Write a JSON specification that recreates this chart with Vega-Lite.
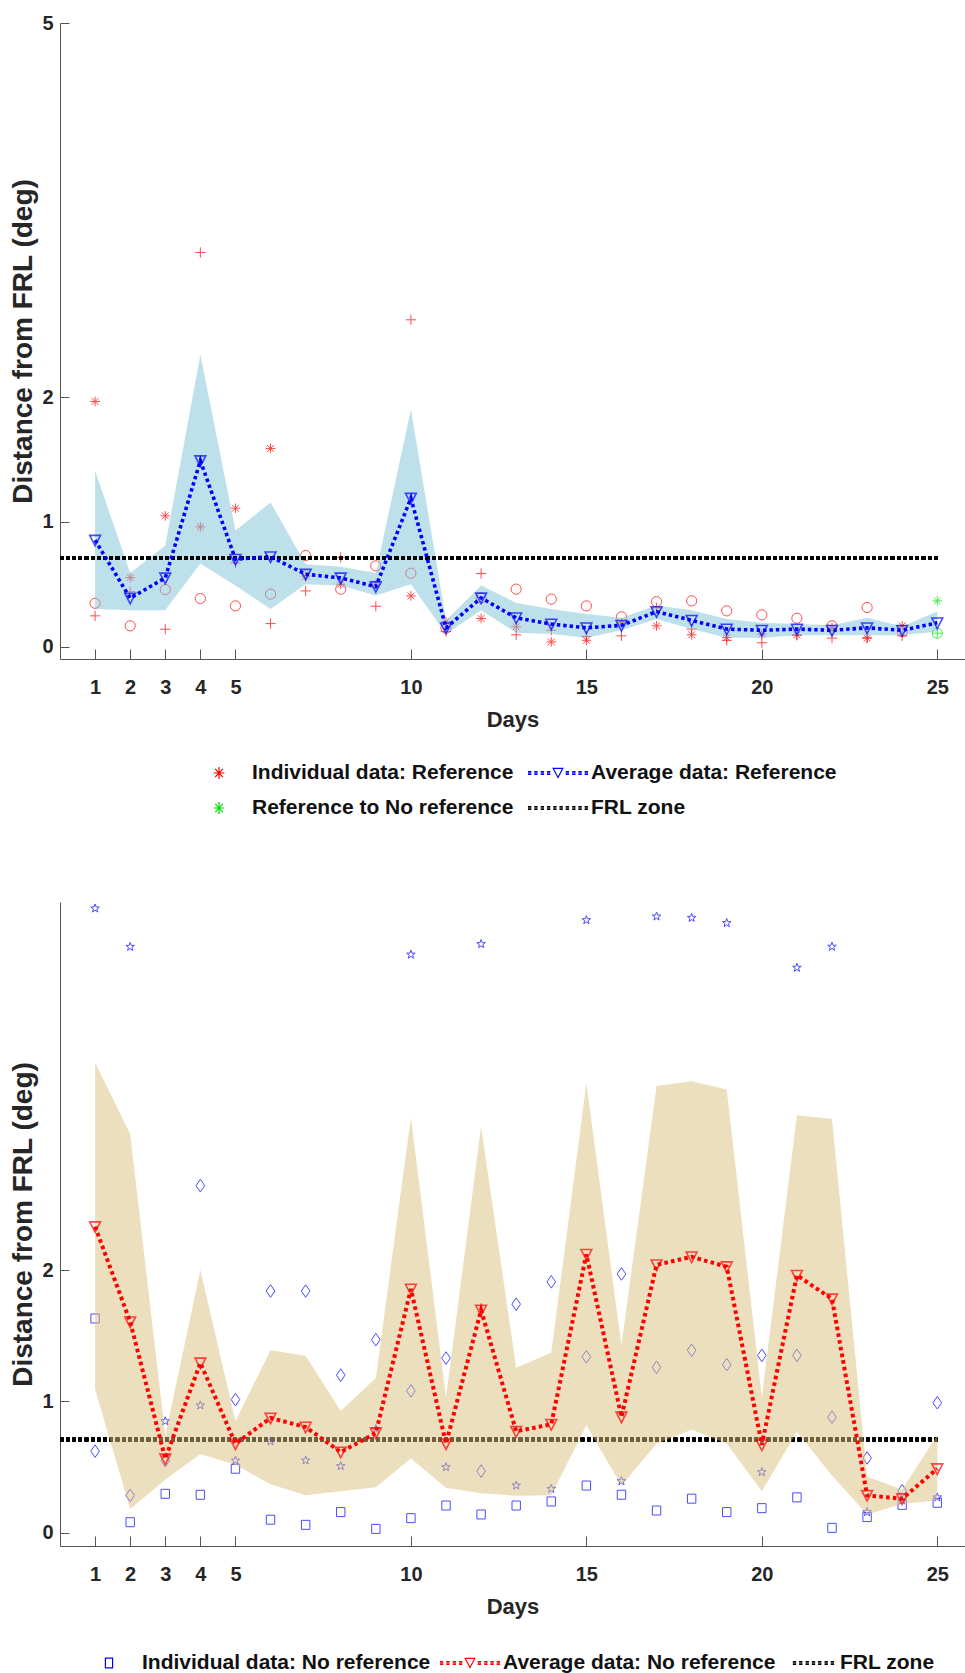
{
  "$schema": "https://vega.github.io/schema/vega-lite/v6.json",
  "padding": {"left": 9, "top": 13, "right": 0, "bottom": 0},
  "spacing": 83,
  "config": {
    "font": "Liberation Sans",
    "view": {"stroke": null},
    "axis": {
      "grid": false,
      "domainColor": "#555555",
      "tickColor": "#555555",
      "labelColor": "#262626",
      "titleColor": "#262626",
      "labelFont": "Liberation Sans",
      "titleFont": "Liberation Sans",
      "labelFontWeight": "bold",
      "titleFontWeight": "bold",
      "labelOverlap": false,
      "labelFlush": false
    },
    "axisX": {"tickSize": -10, "labelFontSize": 20, "labelPadding": 28, "titleFontSize": 22, "titlePadding": 12},
    "axisY": {"tickSize": -9, "labelFontSize": 20, "labelPadding": 16, "titleFontSize": 28, "titlePadding": 4, "format": "~g"},
    "legend": {
      "orient": "none",
      "title": null,
      "symbolSize": 2304,
      "symbolStrokeWidth": 1.2,
      "symbolOpacity": 1,
      "labelFont": "Liberation Sans",
      "labelFontSize": 21,
      "labelFontWeight": "bold",
      "labelColor": "#111111",
      "labelLimit": 500,
      "labelOffset": 8,
      "rowPadding": 0
    }
  },
  "resolve": {"scale": {"color": "independent", "shape": "independent"}},
  "datasets": {
    "top": [
      {"day": 1, "A": 1.965, "P": 0.246, "C": 0.347, "avg": 0.853, "up": 1.41, "lo": 0.30},
      {"day": 2, "A": 0.553, "P": 0.44, "C": 0.166, "avg": 0.388, "up": 0.59, "lo": 0.29},
      {"day": 3, "A": 1.048, "P": 0.139, "C": 0.457, "avg": 0.55, "up": 0.81, "lo": 0.29},
      {"day": 4, "A": 0.96, "P": 3.16, "C": 0.385, "avg": 1.49, "up": 2.34, "lo": 0.665},
      {"day": 5, "A": 1.109, "P": 0.67, "C": 0.326, "avg": 0.70, "up": 0.93, "lo": 0.49},
      {"day": 6, "A": 1.588, "P": 0.184, "C": 0.42, "avg": 0.72, "up": 1.155, "lo": 0.30},
      {"day": 7, "A": 0.565, "P": 0.446, "C": 0.73, "avg": 0.58, "up": 0.66, "lo": 0.50},
      {"day": 8, "A": 0.50, "P": 0.714, "C": 0.46, "avg": 0.55, "up": 0.64, "lo": 0.49},
      {"day": 9, "A": 0.50, "P": 0.323, "C": 0.647, "avg": 0.48, "up": 0.59, "lo": 0.41},
      {"day": 10, "A": 0.406, "P": 2.62, "C": 0.588, "avg": 1.19, "up": 1.90, "lo": 0.50},
      {"day": 11, "A": 0.20, "P": 0.12, "C": 0.147, "avg": 0.15, "up": 0.21, "lo": 0.10},
      {"day": 12, "A": 0.225, "P": 0.585, "C": 0.388, "avg": 0.39, "up": 0.49, "lo": 0.29},
      {"day": 13, "A": 0.158, "P": 0.094, "C": 0.46, "avg": 0.23, "up": 0.35, "lo": 0.11},
      {"day": 14, "A": 0.037, "P": 0.13, "C": 0.38, "avg": 0.18, "up": 0.30, "lo": 0.10},
      {"day": 15, "A": 0.05, "P": 0.08, "C": 0.326, "avg": 0.15, "up": 0.26, "lo": 0.07},
      {"day": 16, "A": 0.19, "P": 0.086, "C": 0.238, "avg": 0.17, "up": 0.23, "lo": 0.13},
      {"day": 17, "A": 0.166, "P": 0.31, "C": 0.36, "avg": 0.28, "up": 0.33, "lo": 0.22},
      {"day": 18, "A": 0.094, "P": 0.14, "C": 0.366, "avg": 0.21, "up": 0.29, "lo": 0.14},
      {"day": 19, "A": 0.072, "P": 0.05, "C": 0.286, "avg": 0.14, "up": 0.22, "lo": 0.07},
      {"day": 20, "A": 0.099, "P": 0.03, "C": 0.254, "avg": 0.13, "up": 0.19, "lo": 0.07},
      {"day": 21, "A": 0.094, "P": 0.09, "C": 0.227, "avg": 0.14, "up": 0.18, "lo": 0.09},
      {"day": 22, "A": 0.15, "P": 0.067, "C": 0.166, "avg": 0.13, "up": 0.17, "lo": 0.09},
      {"day": 23, "A": 0.067, "P": 0.07, "C": 0.313, "avg": 0.15, "up": 0.23, "lo": 0.09},
      {"day": 24, "A": 0.166, "P": 0.086, "C": 0.12, "avg": 0.13, "up": 0.16, "lo": 0.09},
      {"day": 25, "A": 0.366, "P": 0.107, "C": 0.107, "avg": 0.19, "up": 0.28, "lo": 0.12}
    ],
    "bot": [
      {"day": 1, "S": 1.631, "D": 0.622, "T": 4.751, "avg": 2.33, "up": 3.578, "lo": 1.092},
      {"day": 2, "S": 0.081, "D": 0.285, "T": 4.459, "avg": 1.606, "up": 3.035, "lo": 0.181},
      {"day": 3, "S": 0.297, "D": 0.55, "T": 0.849, "avg": 0.564, "up": 0.74, "lo": 0.405},
      {"day": 4, "S": 0.29, "D": 2.642, "T": 0.97, "avg": 1.293, "up": 2.0, "lo": 0.60},
      {"day": 5, "S": 0.488, "D": 1.014, "T": 0.55, "avg": 0.678, "up": 0.85, "lo": 0.518},
      {"day": 6, "S": 0.10, "D": 1.84, "T": 0.696, "avg": 0.874, "up": 1.39, "lo": 0.369},
      {"day": 7, "S": 0.061, "D": 1.84, "T": 0.551, "avg": 0.805, "up": 1.348, "lo": 0.286},
      {"day": 8, "S": 0.158, "D": 1.20, "T": 0.508, "avg": 0.615, "up": 0.928, "lo": 0.316},
      {"day": 9, "S": 0.03, "D": 1.47, "T": 0.79, "avg": 0.76, "up": 1.179, "lo": 0.347},
      {"day": 10, "S": 0.112, "D": 1.08, "T": 4.40, "avg": 1.855, "up": 3.162, "lo": 0.566},
      {"day": 11, "S": 0.208, "D": 1.33, "T": 0.50, "avg": 0.678, "up": 1.03, "lo": 0.343},
      {"day": 12, "S": 0.14, "D": 0.47, "T": 4.48, "avg": 1.695, "up": 3.092, "lo": 0.302},
      {"day": 13, "S": 0.208, "D": 1.74, "T": 0.36, "avg": 0.772, "up": 1.256, "lo": 0.282},
      {"day": 14, "S": 0.239, "D": 1.91, "T": 0.335, "avg": 0.826, "up": 1.37, "lo": 0.286},
      {"day": 15, "S": 0.36, "D": 1.34, "T": 4.662, "avg": 2.119, "up": 3.42, "lo": 0.819},
      {"day": 16, "S": 0.29, "D": 1.97, "T": 0.394, "avg": 0.882, "up": 1.428, "lo": 0.36},
      {"day": 17, "S": 0.17, "D": 1.26, "T": 4.69, "avg": 2.04, "up": 3.40, "lo": 0.678},
      {"day": 18, "S": 0.26, "D": 1.39, "T": 4.68, "avg": 2.10, "up": 3.436, "lo": 0.784},
      {"day": 19, "S": 0.158, "D": 1.28, "T": 4.64, "avg": 2.025, "up": 3.373, "lo": 0.679},
      {"day": 20, "S": 0.188, "D": 1.35, "T": 0.462, "avg": 0.67, "up": 1.03, "lo": 0.317},
      {"day": 21, "S": 0.27, "D": 1.35, "T": 4.30, "avg": 1.96, "up": 3.177, "lo": 0.769},
      {"day": 22, "S": 0.038, "D": 0.88, "T": 4.46, "avg": 1.78, "up": 3.149, "lo": 0.437},
      {"day": 23, "S": 0.12, "D": 0.57, "T": 0.158, "avg": 0.285, "up": 0.427, "lo": 0.139},
      {"day": 24, "S": 0.213, "D": 0.32, "T": 0.247, "avg": 0.26, "up": 0.33, "lo": 0.22},
      {"day": 25, "S": 0.229, "D": 0.99, "T": 0.27, "avg": 0.488, "up": 0.743, "lo": 0.249}
    ],
    "legTop": [
      {"entry": "Individual data: Reference"},
      {"entry": "Reference to No reference"},
      {"entry": "Average data: Reference"},
      {"entry": "FRL zone"}
    ],
    "legBot": [
      {"entry": "Individual data: No reference"},
      {"entry": "Average data: No reference"},
      {"entry": "FRL zone"}
    ]
  },
  "vconcat": [
    {
      "width": 905,
      "height": 636,
      "data": {"name": "top"},
      "encoding": {
        "x": {"field": "day", "type": "quantitative", "title": "Days",
              "scale": {"domain": [0, 25.79], "nice": false, "zero": false},
              "axis": {"values": [1, 2, 3, 4, 5, 10, 15, 20, 25]}}
      },
      "layer": [
        {
          "mark": {"type": "point", "filled": false, "size": 144, "strokeWidth": 1,
                   "shape": "M-0.8,0H0.8M0,-0.8V0.8M-0.57,-0.57L0.57,0.57M-0.57,0.57L0.57,-0.57"},
          "encoding": {
            "y": {"field": "A", "type": "quantitative", "title": "Distance from FRL (deg)",
                  "scale": {"domain": [-0.1, 5], "nice": false, "zero": false},
                  "axis": {"values": [0, 1, 2, 5]}},
            "color": {"condition": {"test": "datum.day == 25", "value": "#00dd00"}, "value": "#ff0000"}
          }
        },
        {
          "mark": {"type": "point", "filled": false, "size": 144, "strokeWidth": 1,
                   "shape": "M-0.85,0H0.85M0,-0.85V0.85"},
          "encoding": {
            "y": {"field": "P", "type": "quantitative", "title": "Distance from FRL (deg)"},
            "color": {"condition": {"test": "datum.day == 25", "value": "#00dd00"}, "value": "#ff0000"}
          }
        },
        {
          "mark": {"type": "point", "filled": false, "size": 144, "strokeWidth": 1,
                   "shape": "M0.85,0A0.85,0.85,0,1,1,-0.85,0A0.85,0.85,0,1,1,0.85,0Z"},
          "encoding": {
            "y": {"field": "C", "type": "quantitative", "title": "Distance from FRL (deg)"},
            "color": {"condition": {"test": "datum.day == 25", "value": "#00dd00"}, "value": "#ff0000"}
          }
        },
        {
          "mark": {"type": "area", "color": "#7dc1d7", "opacity": 0.5},
          "encoding": {
            "y": {"field": "up", "type": "quantitative", "title": "Distance from FRL (deg)"},
            "y2": {"field": "lo"}
          }
        },
        {
          "mark": {"type": "rule", "color": "#000000", "strokeWidth": 3.6, "strokeDash": [3.4, 2.8]},
          "encoding": {
            "x": {"datum": 0, "type": "quantitative", "title": "Days"},
            "x2": {"datum": 25},
            "y": {"datum": 0.71, "type": "quantitative", "title": "Distance from FRL (deg)"}
          }
        },
        {
          "mark": {"type": "line", "color": "#0000ff", "strokeWidth": 3.6, "strokeDash": [3.4, 3]},
          "encoding": {
            "y": {"field": "avg", "type": "quantitative", "title": "Distance from FRL (deg)"}
          }
        },
        {
          "mark": {"type": "point", "filled": false, "size": 144, "strokeWidth": 1.6, "color": "#0000ff",
                   "shape": "M-0.9,-0.8L0.9,-0.8L0,0.95Z"},
          "encoding": {
            "y": {"field": "avg", "type": "quantitative", "title": "Distance from FRL (deg)"}
          }
        },
        {
          "data": {"name": "legTop"},
          "mark": {"type": "point", "filled": false, "opacity": 0, "size": 2304, "strokeWidth": 1.2},
          "encoding": {
            "x": {"datum": 12, "type": "quantitative", "title": "Days"},
            "y": {"datum": 3, "type": "quantitative", "title": "Distance from FRL (deg)"},
            "color": {
              "field": "entry", "type": "nominal",
              "scale": {"domain": ["Individual data: Reference", "Reference to No reference", "Average data: Reference", "FRL zone"],
                        "range": ["#ff0000", "#00dd00", "#0000ff", "#000000"]},
              "legend": {"columns": 2, "legendX": 134, "legendY": 725, "columnPadding": 11,
                         "encode": {"symbols": {"update": {"opacity": {"value": 1}, "strokeOpacity": {"value": 1}}}}}
            },
            "shape": {
              "field": "entry", "type": "nominal",
              "scale": {"domain": ["Individual data: Reference", "Reference to No reference", "Average data: Reference", "FRL zone"],
                        "range": [
                          "M-0.225,0H0.225M0,-0.25V0.25M-0.16,-0.175L0.16,0.175M-0.16,0.175L0.16,-0.175",
                          "M-0.225,0H0.225M0,-0.25V0.25M-0.16,-0.175L0.16,0.175M-0.16,0.175L0.16,-0.175",
                          "M-1.25,-0.056h0.14M-1.25,0h0.14M-1.25,0.056h0.14M-0.99,-0.056h0.14M-0.99,0h0.14M-0.99,0.056h0.14M-0.72,-0.056h0.14M-0.72,0h0.14M-0.72,0.056h0.14M-0.46,-0.056h0.14M-0.46,0h0.14M-0.46,0.056h0.14M-0.2,-0.19L0.2,-0.19L0,0.19ZM0.32,-0.056h0.14M0.32,0h0.14M0.32,0.056h0.14M0.59,-0.056h0.14M0.59,0h0.14M0.59,0.056h0.14M0.85,-0.056h0.14M0.85,0h0.14M0.85,0.056h0.14M1.11,-0.056h0.14M1.11,0h0.14M1.11,0.056h0.14",
                          "M-1.25,-0.056h0.14M-1.25,0h0.14M-1.25,0.056h0.14M-0.99,-0.056h0.14M-0.99,0h0.14M-0.99,0.056h0.14M-0.72,-0.056h0.14M-0.72,0h0.14M-0.72,0.056h0.14M-0.46,-0.056h0.14M-0.46,0h0.14M-0.46,0.056h0.14M-0.2,-0.056h0.14M-0.2,0h0.14M-0.2,0.056h0.14M0.06,-0.056h0.14M0.06,0h0.14M0.06,0.056h0.14M0.32,-0.056h0.14M0.32,0h0.14M0.32,0.056h0.14M0.59,-0.056h0.14M0.59,0h0.14M0.59,0.056h0.14M0.85,-0.056h0.14M0.85,0h0.14M0.85,0.056h0.14M1.11,-0.056h0.14M1.11,0h0.14M1.11,0.056h0.14"
                        ]},
              "legend": {"columns": 2, "legendX": 134, "legendY": 725, "columnPadding": 11,
                         "encode": {"symbols": {"update": {"opacity": {"value": 1}, "strokeOpacity": {"value": 1}}}}}
            }
          }
        }
      ]
    },
    {
      "width": 905,
      "height": 644,
      "data": {"name": "bot"},
      "encoding": {
        "x": {"field": "day", "type": "quantitative", "title": "Days",
              "scale": {"domain": [0, 25.79], "nice": false, "zero": false},
              "axis": {"values": [1, 2, 3, 4, 5, 10, 15, 20, 25]}}
      },
      "layer": [
        {
          "mark": {"type": "rule", "color": "#000000", "strokeWidth": 3.6, "strokeDash": [3.4, 2.8]},
          "encoding": {
            "x": {"datum": 0, "type": "quantitative", "title": "Days"},
            "x2": {"datum": 25},
            "y": {"datum": 0.71, "type": "quantitative", "title": "Distance from FRL (deg)",
                  "scale": {"domain": [-0.1, 4.8], "nice": false, "zero": false},
                  "axis": {"values": [0, 1, 2]}}
          }
        },
        {
          "mark": {"type": "point", "filled": false, "size": 144, "strokeWidth": 1, "color": "#0000ff",
                   "shape": "M-0.7,-0.75H0.7V0.75H-0.7Z"},
          "encoding": {"y": {"field": "S", "type": "quantitative", "title": "Distance from FRL (deg)"}}
        },
        {
          "mark": {"type": "point", "filled": false, "size": 144, "strokeWidth": 1, "color": "#0000ff",
                   "shape": "M0,-1.05L0.72,0L0,1.05L-0.72,0Z"},
          "encoding": {"y": {"field": "D", "type": "quantitative", "title": "Distance from FRL (deg)"}}
        },
        {
          "mark": {"type": "point", "filled": false, "size": 144, "strokeWidth": 1, "color": "#0000ff",
                   "shape": "M0,-0.75L0.176,-0.243L0.713,-0.232L0.285,0.093L0.441,0.607L0,0.3L-0.441,0.607L-0.285,0.093L-0.713,-0.232L-0.176,-0.243Z"},
          "encoding": {"y": {"field": "T", "type": "quantitative", "title": "Distance from FRL (deg)"}}
        },
        {
          "mark": {"type": "area", "color": "#d9bf7d", "opacity": 0.5},
          "encoding": {
            "y": {"field": "up", "type": "quantitative", "title": "Distance from FRL (deg)"},
            "y2": {"field": "lo"}
          }
        },
        {
          "mark": {"type": "line", "color": "#ff0000", "strokeWidth": 4, "strokeDash": [3.6, 3.2]},
          "encoding": {"y": {"field": "avg", "type": "quantitative", "title": "Distance from FRL (deg)"}}
        },
        {
          "mark": {"type": "point", "filled": false, "size": 144, "strokeWidth": 1.6, "color": "#ff0000",
                   "shape": "M-0.9,-0.8L0.9,-0.8L0,0.95Z"},
          "encoding": {"y": {"field": "avg", "type": "quantitative", "title": "Distance from FRL (deg)"}}
        },
        {
          "data": {"name": "legBot"},
          "mark": {"type": "point", "filled": false, "opacity": 0, "size": 2304, "strokeWidth": 1.2},
          "encoding": {
            "x": {"datum": 12, "type": "quantitative", "title": "Days"},
            "y": {"datum": 3, "type": "quantitative", "title": "Distance from FRL (deg)"},
            "color": {
              "field": "entry", "type": "nominal",
              "scale": {"domain": ["Individual data: No reference", "Average data: No reference", "FRL zone"],
                        "range": ["#0000ff", "#ff0000", "#000000"]},
              "legend": {"columns": 3, "legendX": 24, "legendY": 736, "columnPadding": 6,
                         "encode": {"symbols": {"update": {"opacity": {"value": 1}, "strokeOpacity": {"value": 1}}}}}
            },
            "shape": {
              "field": "entry", "type": "nominal",
              "scale": {"domain": ["Individual data: No reference", "Average data: No reference", "FRL zone"],
                        "range": [
                          "M-0.15,-0.2H0.15V0.2H-0.15Z",
                          "M-1.25,-0.056h0.14M-1.25,0h0.14M-1.25,0.056h0.14M-0.99,-0.056h0.14M-0.99,0h0.14M-0.99,0.056h0.14M-0.72,-0.056h0.14M-0.72,0h0.14M-0.72,0.056h0.14M-0.46,-0.056h0.14M-0.46,0h0.14M-0.46,0.056h0.14M-0.2,-0.19L0.2,-0.19L0,0.19ZM0.32,-0.056h0.14M0.32,0h0.14M0.32,0.056h0.14M0.59,-0.056h0.14M0.59,0h0.14M0.59,0.056h0.14M0.85,-0.056h0.14M0.85,0h0.14M0.85,0.056h0.14M1.11,-0.056h0.14M1.11,0h0.14M1.11,0.056h0.14",
                          "M-0.59,-0.056h0.14M-0.59,0h0.14M-0.59,0.056h0.14M-0.33,-0.056h0.14M-0.33,0h0.14M-0.33,0.056h0.14M-0.06,-0.056h0.14M-0.06,0h0.14M-0.06,0.056h0.14M0.2,-0.056h0.14M0.2,0h0.14M0.2,0.056h0.14M0.46,-0.056h0.14M0.46,0h0.14M0.46,0.056h0.14M0.73,-0.056h0.14M0.73,0h0.14M0.73,0.056h0.14M0.99,-0.056h0.14M0.99,0h0.14M0.99,0.056h0.14"
                        ]},
              "legend": {"columns": 3, "legendX": 24, "legendY": 736, "columnPadding": 6,
                         "encode": {"symbols": {"update": {"opacity": {"value": 1}, "strokeOpacity": {"value": 1}}}}}
            }
          }
        }
      ]
    }
  ]
}
